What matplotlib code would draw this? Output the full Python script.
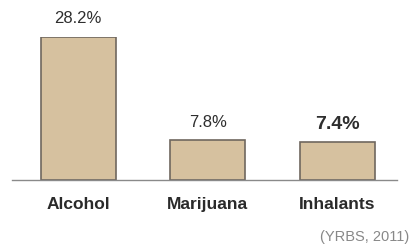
import matplotlib
matplotlib.use("Agg")
from matplotlib import pyplot as plt

categories = ["Alcohol", "Marijuana", "Inhalants"]
values = [28.2, 7.8, 7.4]
labels = ["28.2%", "7.8%", "7.4%"]
source = "(YRBS, 2011)"

plt.rcParams["font.family"] = ["Liberation Sans", "DejaVu Sans"]

W, H = 410, 248
fig = plt.figure(figsize=(W / 100, H / 100), dpi=100)
ax = fig.add_axes([12 / W, 68 / H, 385 / W, 143 / H])

x = list(range(len(categories)))
ax.bar(x, values, width=0.58, color="#d6c19f", edgecolor="#6f675f", linewidth=1.2, zorder=2)
ax.set_xlim(-0.51, 2.46)
ax.set_ylim(0, 28.2)

for s in ["top", "right", "left"]:
    ax.spines[s].set_visible(False)
ax.spines["bottom"].set_color("#8a8a8a")
ax.spines["bottom"].set_linewidth(1.0)
ax.set_yticks([])
ax.set_xticks(x)
ax.set_xticklabels(categories, fontsize=12.5, fontweight="bold", color="#2a2a2a")
ax.tick_params(axis="x", length=0, pad=12)

for i, (v, lab) in enumerate(zip(values, labels)):
    last = i == len(values) - 1
    ax.text(i, v + 3.6, lab, ha="center", va="center",
            fontsize=14 if last else 12,
            fontweight="bold" if last else "normal",
            color="#2e2e2e", clip_on=False)

fig.text(409 / W, 1 - 237 / H, source, ha="right", va="center", fontsize=10.5,
         color="#888888")

fig.savefig("out.png", dpi=100)
plt.close()
